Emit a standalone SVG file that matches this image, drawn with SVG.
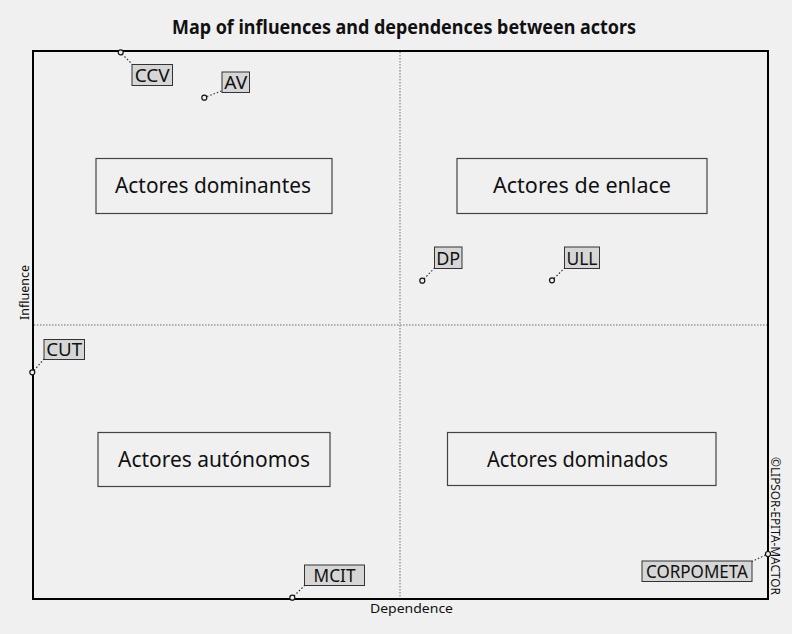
<svg xmlns="http://www.w3.org/2000/svg" width="792" height="634" viewBox="0 0 792 634">
  <style>
    text { font-family: "Noto Sans", "Liberation Sans", sans-serif; fill: #111; }
    .title { font-size: 19px; font-weight: bold; }
    .axis { font-size: 13px; }
    .quad rect { fill: none; stroke: #444; stroke-width: 1.2; }
    .quad text { font-size: 21px; text-anchor: middle; }
    .actor rect { fill: #d6d6d6; stroke: #333; stroke-width: 1; }
    .actor text { font-size: 18px; text-anchor: middle; }
    .actor circle { fill: #f0f0f0; stroke: #111; stroke-width: 1.2; }
    .leader { stroke: #333; stroke-width: 1.2; stroke-dasharray: 1.5 2; fill: none; }
    .mid { stroke: #999; stroke-width: 1.5; stroke-dasharray: 1.5 1.5; }
  </style>
  <rect width="792" height="634" fill="#f0f0f0"/>
  <text class="title" x="404" y="34" text-anchor="middle" textLength="464" lengthAdjust="spacingAndGlyphs">Map of influences and dependences between actors</text>

  <!-- quadrant dividers -->
  <g id="dividers">
    <line class="mid" x1="400" y1="52" x2="400" y2="598"/>
    <line class="mid" x1="34" y1="325" x2="767" y2="325"/>
  </g>

  <!-- plot frame -->
  <rect x="33" y="51" width="735" height="548" fill="none" stroke="#000" stroke-width="2"/>

  <text class="axis" x="411.5" y="613" text-anchor="middle" textLength="83" lengthAdjust="spacingAndGlyphs">Dependence</text>
  <text class="axis" transform="translate(29,292.5) rotate(-90)" text-anchor="middle" textLength="55" lengthAdjust="spacingAndGlyphs">Influence</text>
  <text class="axis" transform="translate(771,526) rotate(90)" text-anchor="middle" textLength="138" lengthAdjust="spacingAndGlyphs">©LIPSOR-EPITA-MACTOR</text>

  <!-- quadrant labels -->
  <g id="q-dominantes" class="quad">
    <rect x="96" y="158.5" width="236" height="55"/>
    <text x="213" y="192.5" textLength="196" lengthAdjust="spacingAndGlyphs">Actores dominantes</text>
  </g>
  <g id="q-enlace" class="quad">
    <rect x="457" y="158.5" width="250" height="55"/>
    <text x="582" y="192.5" textLength="178" lengthAdjust="spacingAndGlyphs">Actores de enlace</text>
  </g>
  <g id="q-autonomos" class="quad">
    <rect x="98" y="432.5" width="232" height="54"/>
    <text x="214" y="466.5" textLength="192" lengthAdjust="spacingAndGlyphs">Actores autónomos</text>
  </g>
  <g id="q-dominados" class="quad">
    <rect x="447.5" y="432.5" width="268.5" height="53"/>
    <text x="577.5" y="466.5" textLength="181" lengthAdjust="spacingAndGlyphs">Actores dominados</text>
  </g>

  <!-- leader lines -->
  <g id="connectors">
    <line class="leader" x1="122" y1="54" x2="132" y2="64"/>
    <line class="leader" x1="207" y1="96.5" x2="221.5" y2="91"/>
    <line class="leader" x1="424" y1="279" x2="434.5" y2="268"/>
    <line class="leader" x1="554" y1="278.5" x2="564.5" y2="268"/>
    <line class="leader" x1="34" y1="370.5" x2="44" y2="359"/>
    <line class="leader" x1="294" y1="596" x2="304.5" y2="585.5"/>
    <line class="leader" x1="765.5" y1="555" x2="752" y2="561.5"/>
  </g>

  <!-- actors -->
  <g id="CCV" class="actor">
    <circle cx="120.7" cy="52.3" r="2.5"/>
    <rect x="132" y="64.5" width="40.5" height="21"/>
    <text x="152.2" y="81.5" textLength="35" lengthAdjust="spacingAndGlyphs">CCV</text>
  </g>
  <g id="AV" class="actor">
    <circle cx="204.3" cy="97.7" r="2.5"/>
    <rect x="222" y="72" width="27.5" height="20.5"/>
    <text x="235.7" y="89" textLength="23" lengthAdjust="spacingAndGlyphs">AV</text>
  </g>
  <g id="DP" class="actor">
    <circle cx="422.3" cy="280.7" r="2.5"/>
    <rect x="434.5" y="247" width="27.5" height="21.5"/>
    <text x="448.2" y="264.5" textLength="24" lengthAdjust="spacingAndGlyphs">DP</text>
  </g>
  <g id="ULL" class="actor">
    <circle cx="552" cy="280.3" r="2.5"/>
    <rect x="564.5" y="247" width="35" height="21.5"/>
    <text x="582" y="264.5" textLength="31" lengthAdjust="spacingAndGlyphs">ULL</text>
  </g>
  <g id="CUT" class="actor">
    <circle cx="32.3" cy="372.3" r="2.5"/>
    <rect x="44" y="339.5" width="40.5" height="20"/>
    <text x="64.2" y="356" textLength="36" lengthAdjust="spacingAndGlyphs">CUT</text>
  </g>
  <g id="MCIT" class="actor">
    <circle cx="292.3" cy="597.7" r="2.5"/>
    <rect x="304.5" y="565" width="60" height="20.5"/>
    <text x="334.5" y="582" textLength="42" lengthAdjust="spacingAndGlyphs">MCIT</text>
  </g>
  <g id="CORPOMETA" class="actor">
    <circle cx="768" cy="554" r="2.5"/>
    <rect x="642" y="561" width="110" height="20.5"/>
    <text x="697" y="578" textLength="102" lengthAdjust="spacingAndGlyphs">CORPOMETA</text>
  </g>
</svg>
